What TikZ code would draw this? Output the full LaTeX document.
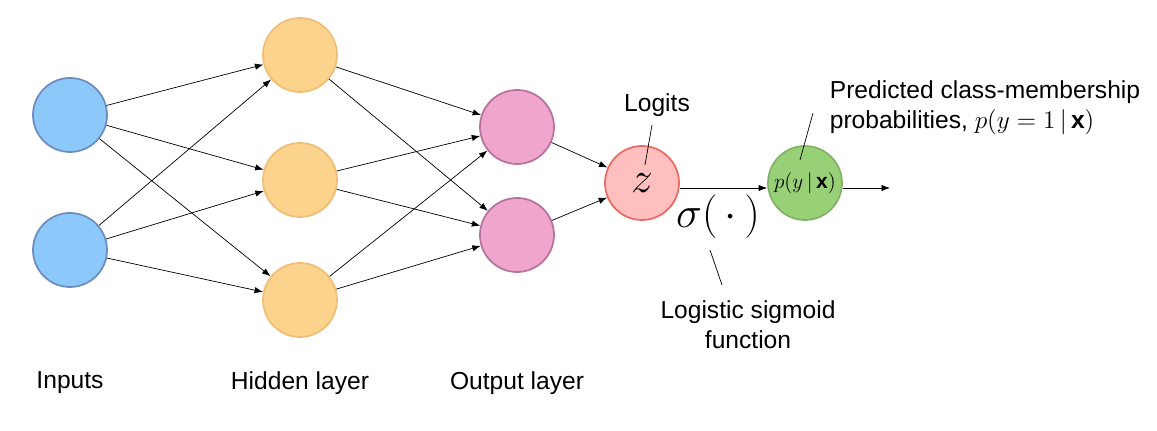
\documentclass[tikz,border=0pt]{standalone}
\usepackage{amsmath}
\usepackage{fontspec}
\setmainfont{Liberation Sans}
\usetikzlibrary{arrows.meta,positioning}
\tikzset{>=Latex, font=\fontsize{14}{17}\selectfont}
\tikzstyle{neuron} = [draw, circle, line width=1pt, minimum size=1.48cm, inner sep=0pt]
\tikzstyle{inpneuron} = [neuron, fill={rgb,255:red,141;green,200;blue,250}, draw={rgb,255:red,108;green,142;blue,191}]
\tikzstyle{hidneuron} = [neuron, fill={rgb,255:red,252;green,211;blue,140}, draw={rgb,255:red,240;green,190;blue,120}]
\tikzstyle{outneuron} = [neuron, fill={rgb,255:red,240;green,166;blue,204}, draw={rgb,255:red,181;green,115;blue,157}]
\tikzstyle{logitneuron} = [neuron, fill={rgb,255:red,255;green,191;blue,191}, draw={rgb,255:red,234;green,107;blue,102}]
\tikzstyle{probneuron} = [neuron, fill={rgb,255:red,151;green,208;blue,119}, draw={rgb,255:red,130;green,179;blue,102}]
\tikzstyle{caption} = [align=center]

\begin{document}
\begin{tikzpicture}[x=0.02cm, y=-0.02cm]
    \useasboundingbox (0,0) rectangle (1157,431);
    \node [inpneuron] (in1) at (70,115) {};
    \node [inpneuron] (in2) at (70,250) {};
    \node [hidneuron] (h1) at (300,55) {};
    \node [hidneuron] (h2) at (300,180) {};
    \node [hidneuron] (h3) at (300,300) {};
    \node [outneuron] (o1) at (517,127) {};
    \node [outneuron] (o2) at (517,235) {};
    \node [logitneuron] (z) at (642,183) {\fontsize{24}{24}\selectfont$z$};
    \node [probneuron] (p) at (805,183) {\fontsize{12}{12}\selectfont$p(y\,|\,\mathbf{x})$};
    \coordinate (pout) at (890,188);

    \foreach \i in {in1,in2}
        \foreach \h in {h1,h2,h3}
            \draw [->] (\i) -- (\h);
    \foreach \h in {h1,h2,h3}
        \foreach \o in {o1,o2}
            \draw [->] (\h) -- (\o);
    \draw [->] (o1) -- (z);
    \draw [->] (o2) -- (z);
    \draw [->] (z.east |- 0,188) -- (p.west |- 0,188);
    \draw [->] (p.east |- 0,188) -- (pout);

    % labels
    \node [caption] (sig) at (718,217) {\fontsize{24}{24}\selectfont$\sigma(\,\cdot\,)$};
    \node [caption] (logits) at (657,105) {Logits};
    \node [caption, align=left] (pred) at (985,108) {Predicted class-membership\\probabilities, $p(y=1\,|\,\mathbf{x})$};
    \node [caption] (sigtxt) at (748,325) {Logistic sigmoid\\function};
    \coordinate (lg1) at (652,125);
    \coordinate (lg2) at (645,165);
    \coordinate (pr1) at (813,113);
    \coordinate (pr2) at (800,160);
    \coordinate (sg1) at (710,250);
    \coordinate (sg2) at (722,285);
    \draw (lg1) -- (lg2);
    \draw (pr1) -- (pr2);
    \draw (sg1) -- (sg2);

    \node [caption] (linp) at (70,383) {Inputs};
    \node [caption] (lhid) at (300,383) {Hidden layer};
    \node [caption] (lout) at (517,383) {Output layer};
\end{tikzpicture}
\end{document}
